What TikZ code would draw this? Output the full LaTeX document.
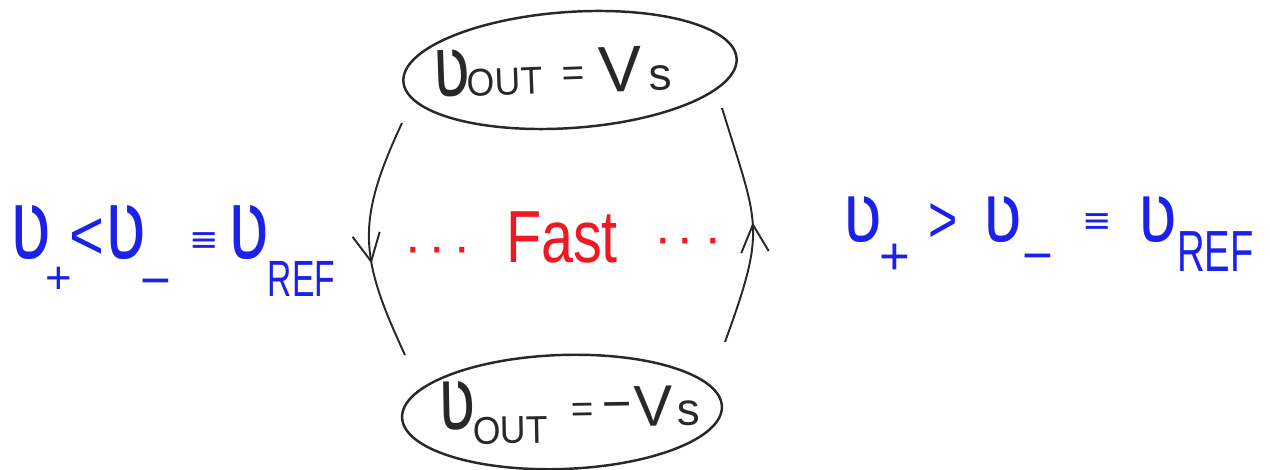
\documentclass[tikz,border=0pt]{standalone}
\usepackage{fontspec}
\setmainfont{Liberation Sans}
\newfontfamily\dvfont{DejaVu Sans}
\usetikzlibrary{shapes.geometric,arrows.meta,decorations.markings,calc}
\definecolor{pen}{RGB}{40,40,40}
\definecolor{inkblue}{RGB}{28,32,235}
\definecolor{inkred}{RGB}{240,25,35}
\newcommand\fs[1]{\fontsize{#1}{#1}\selectfont}
\newcommand\hookv[2]{{\dvfont\fs{#1}\scalebox{1}[#2]{ʋ}}}
\newcommand\lowsub[3]{\raisebox{#1}{\fs{#2}#3}}
\tikzset{
  oval/.style={ellipse, draw=pen, line width=1.4pt, inner sep=0pt},
  handtext/.style={inner sep=0pt, outer sep=0pt, text=pen, anchor=base west},
  bluetext/.style={inner sep=0pt, outer sep=0pt, text=inkblue, anchor=base west},
  redtext/.style={inner sep=0pt, outer sep=0pt, text=inkred, anchor=base west},
  swing/.style={draw=pen, line width=1.1pt},
  arrowmark/.style={postaction={decorate}, decoration={markings,
      mark=at position #1 with {\arrow{Straight Barb[length=5.5mm,width=5.5mm]}}}},
}
\begin{document}
\begin{tikzpicture}
\useasboundingbox (0,0) rectangle (25.4,9.38);

% state ellipses
\node[oval, minimum width=6.68cm, minimum height=2.32cm, rotate=4] (topE) at (11.4,7.98) {};
\node[oval, minimum width=6.4cm, minimum height=2.28cm, rotate=2] (botE) at (11.24,1.14) {};

% state texts
\node[handtext, rotate=2] (topT) at (8.66,7.42)
  {\makebox[0.7cm][l]{\hookv{36}{1.35}}\makebox[1.9cm][l]{\fs{22}\scalebox{0.92}[1]{OUT}}\makebox[0.74cm][l]{\raisebox{4pt}{\fs{22}=}}\makebox[1.0cm][l]{\fs{37}V}{\fs{26}s}};
\node[handtext, rotate=1] (botT) at (8.76,0.78)
  {\makebox[0.7cm][l]{\hookv{36}{1.4}}\makebox[1.98cm][l]{\raisebox{-8.5pt}{\fs{22}\scalebox{0.92}[1]{OUT}}}\makebox[0.62cm][l]{\raisebox{3pt}{\fs{22}=}}\makebox[0.64cm][l]{\raisebox{3pt}{\fs{29}−}}\makebox[0.86cm][l]{\fs{33}V}{\fs{26}s}};

% conditions
\node[bluetext] (condL) at (0.2,4.18)
  {\makebox[0.72cm][l]{\hookv{40}{1.4}}\makebox[0.48cm][l]{\lowsub{-19pt}{26}{+}}\makebox[0.7cm][l]{\fs{40}\scalebox{0.85}[1]{<}}\makebox[0.72cm][l]{\hookv{40}{1.4}}\makebox[0.98cm][l]{\lowsub{-22pt}{30}{−}}\makebox[0.76cm][l]{\raisebox{5pt}{\dvfont\fs{20}≡}}\makebox[0.8cm][l]{\hookv{40}{1.4}}\lowsub{-21pt}{29}{\scalebox{0.66}[1]{REF}}};
\node[bluetext] (condR) at (16.84,4.52)
  {\makebox[0.74cm][l]{\hookv{38}{1.25}}\makebox[0.98cm][l]{\lowsub{-18pt}{30}{+}}\makebox[1.08cm][l]{\fs{38}\scalebox{0.75}[1]{>}}\makebox[0.8cm][l]{\hookv{38}{1.25}}\makebox[1.2cm][l]{\lowsub{-17.5pt}{30}{−}}\makebox[1.1cm][l]{\raisebox{6pt}{\dvfont\fs{20}≡}}\makebox[0.8cm][l]{\hookv{38}{1.25}}\lowsub{-16.5pt}{33}{\scalebox{0.66}[1]{REF}}};

% fast label
\node[redtext] (fast) at (8.08,4.12)
  {{\fs{30}\raisebox{-1pt}{\makebox[0.5cm][l]{·}\makebox[0.5cm][l]{·}\makebox[1.04cm][l]{·}}}\makebox[2.96cm][l]{\fs{42}\scalebox{0.78}[1]{Fast}}{\fs{30}\raisebox{4pt}{\makebox[0.46cm][l]{·}\makebox[0.56cm][l]{·}·}}};

% transitions
\coordinate (L1) at ($(topE.center)+(-3.36,-1.06)$);
\coordinate (L2) at ($(botE.center)+(-3.14,1.14)$);
\coordinate (R1) at ($(botE.center)+(3.26,1.40)$);
\coordinate (R2) at ($(topE.center)+(3.04,-0.76)$);
\draw[swing, arrowmark=0.6] (L1) to[out=245,in=115,looseness=1.2] (L2);
\draw[swing, arrowmark=0.51] (R1) to[out=70,in=287,looseness=1.35] (R2);
\end{tikzpicture}
\end{document}
